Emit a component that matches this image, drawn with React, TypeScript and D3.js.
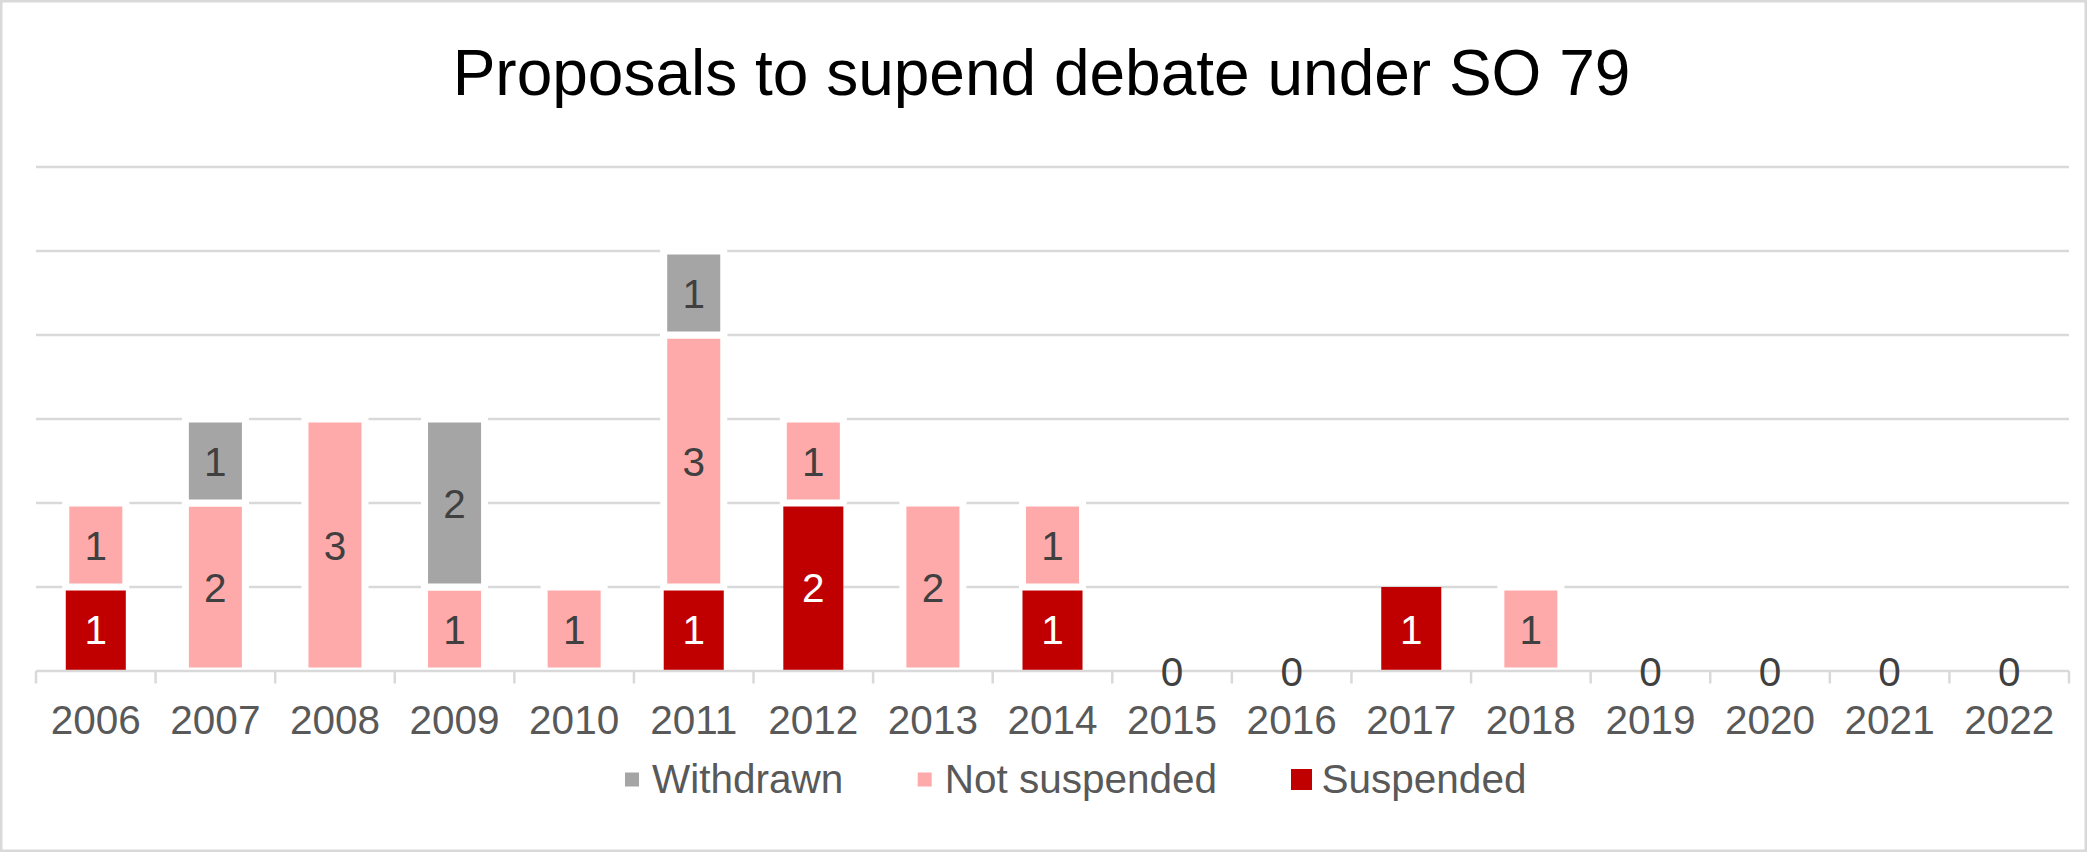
import React from "react";
import * as d3 from "d3";

const years = ["2006","2007","2008","2009","2010","2011","2012","2013","2014","2015","2016","2017","2018","2019","2020","2021","2022"];
const suspended = [1,0,0,0,0,1,2,0,1,0,0,1,0,0,0,0,0];
const notSuspended = [1,2,3,1,1,3,1,2,1,0,0,0,1,0,0,0,0];
const withdrawn = [0,1,0,2,0,1,0,0,0,0,0,0,0,0,0,0,0];
const yTicks = [0,1,2,3,4,5,6];

const seriesNames = ["Suspended","Not suspended","Withdrawn"];
const seriesColors = ["#C00000","#FFAAAA","#A5A5A5"];
const legendOrder = [2,1,0];

const W = 2087;
const H = 852;
const FONT = "'Liberation Sans', Arial, Helvetica, sans-serif";

export default function App() {
  const x = d3.scaleBand<string>().domain(years).range([36, 2069]).padding(0);
  const y = d3.scaleLinear().domain([0, 6]).range([671, 167]);
  const bw = x.bandwidth() * 0.502;

  const table = years.map((yr, i) => ({
    year: yr,
    s0: suspended[i],
    s1: notSuspended[i],
    s2: withdrawn[i],
  }));
  const stack = d3.stack<any>().keys(["s0", "s1", "s2"]);
  const layers = stack(table);

  const boundaries = years.map((yr) => x(yr) as number).concat([x.range()[1]]);

  const legendX = [632, 924.7, 1301.5];
  const legendY = 779.5;

  return (
    <div style={{ position: "absolute", left: 0, top: 0 }}>
      <svg width={W} height={H} style={{ display: "block", background: "#fff" }}>
        <rect x={1.25} y={1.25} width={W - 2.5} height={H - 2.5} fill="#fff" stroke="#D9D9D9" strokeWidth={2.5} />
        <text x={1041.5} y={95} textAnchor="middle" fontFamily={FONT} fontSize={64} fill="#000">
          Proposals to supend debate under SO 79
        </text>
        {yTicks.filter((t) => t > 0).map((t) => (
          <line key={"g" + t} x1={36} x2={2069} y1={y(t)} y2={y(t)} stroke="#D9D9D9" strokeWidth={2.4} />
        ))}
        {layers.map((layer, li) =>
          layer.map((d, i) => {
            const v = d[1] - d[0];
            if (v <= 0) return null;
            const cx = (x(years[i]) as number) + x.bandwidth() / 2;
            const top = y(d[1]);
            const bot = y(d[0]);
            return (
              <rect
                key={"b" + li + "-" + i}
                x={cx - bw / 2}
                y={top}
                width={bw}
                height={bot - top}
                fill={seriesColors[li]}
                stroke={li === 0 ? "none" : "#fff"}
                strokeWidth={li === 0 ? 0 : 7}
              />
            );
          })
        )}
        <line x1={36} x2={2069} y1={y(0)} y2={y(0)} stroke="#D9D9D9" strokeWidth={2.5} />
        {boundaries.map((bx, i) => (
          <line key={"t" + i} x1={bx} x2={bx} y1={y(0)} y2={y(0) + 12.5} stroke="#D9D9D9" strokeWidth={2.5} />
        ))}
        {years.map((yr) => (
          <text key={"xl" + yr} x={(x(yr) as number) + x.bandwidth() / 2} y={734} textAnchor="middle" fontFamily={FONT} fontSize={40.5} fill="#595959">
            {yr}
          </text>
        ))}
        {layers.map((layer, li) =>
          layer.map((d, i) => {
            const v = d[1] - d[0];
            if (v <= 0) return null;
            const cx = (x(years[i]) as number) + x.bandwidth() / 2;
            const cy = (y(d[1]) + y(d[0])) / 2;
            return (
              <text key={"l" + li + "-" + i} x={cx} y={cy} dy="0.36em" textAnchor="middle" fontFamily={FONT} fontSize={40.5} fill={li === 0 ? "#FFFFFF" : "#404040"}>
                {v}
              </text>
            );
          })
        )}
        {table.map((d, i) => {
          const total = d.s0 + d.s1 + d.s2;
          if (total !== 0) return null;
          const cx = (x(years[i]) as number) + x.bandwidth() / 2;
          return (
            <text key={"z" + i} x={cx} y={y(0)} dy="0.36em" textAnchor="middle" fontFamily={FONT} fontSize={40.5} fill="#404040">
              {total}
            </text>
          );
        })}
        {legendOrder.map((si, k) => (
          <g key={"lg" + si}>
            <rect
              x={legendX[k] - 10.5}
              y={legendY - 10.5}
              width={21}
              height={21}
              fill={seriesColors[si]}
              stroke={si === 0 ? "none" : "#fff"}
              strokeWidth={si === 0 ? 0 : 7}
            />
            <text x={legendX[k] + 20} y={792.7} fontFamily={FONT} fontSize={40.5} fill="#595959">
              {seriesNames[si]}
            </text>
          </g>
        ))}
      </svg>
    </div>
  );
}
